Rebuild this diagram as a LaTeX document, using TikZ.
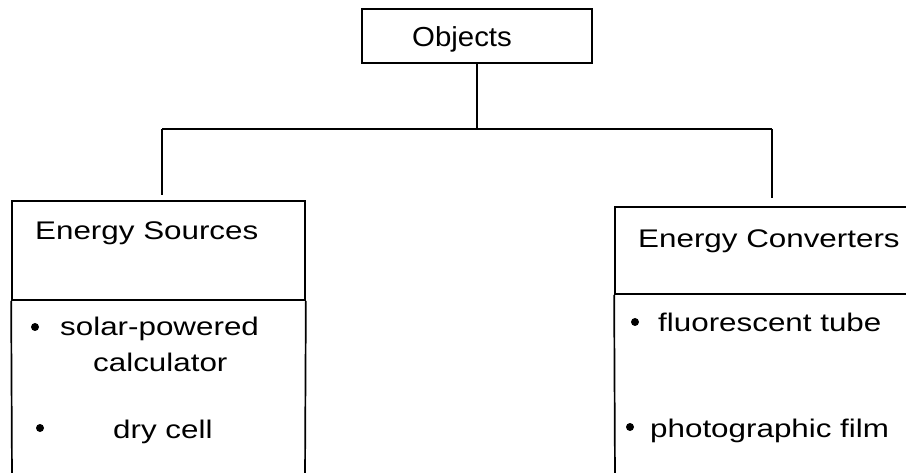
\documentclass[tikz,border=0pt]{standalone}
\usepackage{fontspec}
\usepackage{graphicx}
\setmainfont{Liberation Sans}
\begin{document}
\begin{tikzpicture}[x=1pt,y=-1pt,
  line/.style={line width=1.7pt,black},
  boxcell/.style={draw,line width=1.7pt,inner sep=0pt,rectangle},
  body/.style={anchor=base west,inner sep=0pt,font=\fontsize{25.5}{30}\selectfont},
  bul/.style={circle,fill=black,inner sep=0pt,minimum size=8pt}]
\useasboundingbox (0,0) rectangle (906,473);
\clip (0,0) rectangle (906,473);
\fill[white] (0,0) rectangle (906,473);
% top box
\node[boxcell,minimum width=230pt,minimum height=54pt] (obj) at (477,36) {};
\node[anchor=base,inner sep=0pt,font=\fontsize{27.5}{30}\selectfont] (objt) at (462,47) {\scalebox{1.07}[1]{Objects}};
% connectors
\coordinate (jc) at (477,129);
\coordinate (jl) at (162,129);
\coordinate (jr) at (772,129);
\coordinate (el) at (162,195);
\coordinate (er) at (772,198);
\draw[line] (obj.south) -- (jc);
\draw[line] (jl) -- (jr);
\draw[line] (jl) -- (el);
\draw[line] (jr) -- (er);
% left box
\node[boxcell,minimum width=293pt,minimum height=99pt] (srch) at (158.5,250.5) {};
\coordinate (slb) at (12,480);
\coordinate (srb) at (305,480);
\draw[line] (srch.south west) -- (slb);
\draw[line] (srch.south east) -- (srb);
% right box
\node[boxcell,minimum width=320pt,minimum height=87pt] (cnvh) at (775,250.5) {};
\coordinate (clb) at (615,480);
\draw[line] (cnvh.south west) -- (clb);
% texts
\node[body] (t1) at (35,240) {\scalebox{1.23}[1]{Energy Sources}};
\node[body] (t2) at (638,248) {\scalebox{1.23}[1]{Energy Converters}};
\node[bul] (b1) at (35,327) {};
\node[body] (t3) at (60,336) {\scalebox{1.23}[1]{solar-powered}};
\node[body] (t4) at (93,372) {\scalebox{1.23}[1]{calculator}};
\node[bul] (b2) at (40,428) {};
\node[body] (t5) at (113,438) {\scalebox{1.23}[1]{dry cell}};
\node[bul] (b3) at (635,322) {};
\node[body] (t6) at (658,332) {\scalebox{1.23}[1]{fluorescent tube}};
\node[bul] (b4) at (630,427) {};
\node[body] (t7) at (650,437) {\scalebox{1.23}[1]{photographic film}};
\end{tikzpicture}
\end{document}
